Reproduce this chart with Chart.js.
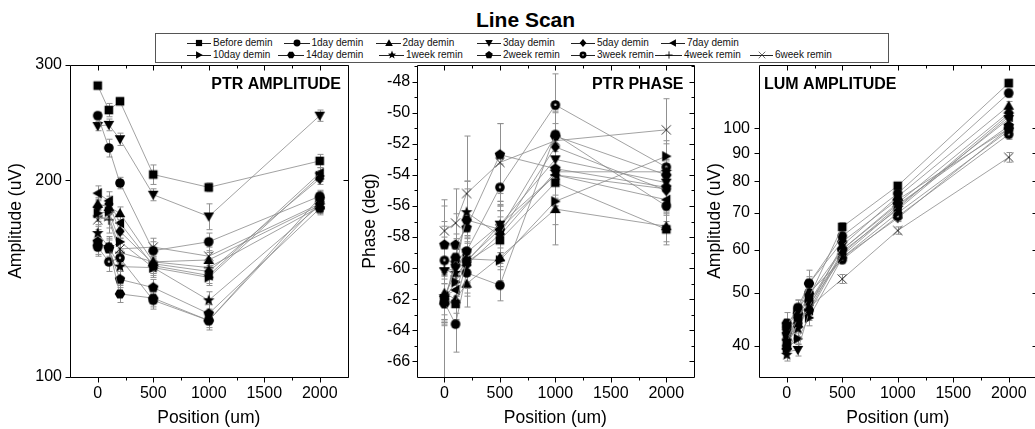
<!DOCTYPE html>
<html>
<head>
<meta charset="utf-8">
<script src="https://cdn.jsdelivr.net/npm/chart.js@4/dist/chart.umd.min.js"></script>
<style>
html,body{margin:0;padding:0;width:1035px;height:429px;overflow:hidden;background:#fff;font-family:"Liberation Sans",Arial,sans-serif;}
#title{position:absolute;left:0;width:1051px;top:9px;text-align:center;font-weight:bold;font-size:21px;line-height:21px;color:#000;}
canvas.panel{position:absolute;top:0;}
#legend{position:absolute;left:155px;top:33px;width:734px;height:30px;border:1px solid #555;box-sizing:border-box;background:#fff;}
.li{position:absolute;font-size:10px;line-height:12px;white-space:nowrap;color:#111;}
.lic{position:absolute;}
</style>
</head>
<body>
<div id="title">Line Scan</div>
<canvas id="c1" class="panel" width="355" height="429" style="left:0px"></canvas>
<canvas id="c2" class="panel" width="340" height="429" style="left:360px"></canvas>
<canvas id="c3" class="panel" width="345" height="429" style="left:700px"></canvas>
<div id="legend"></div>
<script>
// ---------------- DATA ----------------
const positions = [0, 100, 200, 500, 1000, 2000];
const seriesNames = ['Before demin','1day demin','2day demin','3day demin','5day demin','7day demin',
  '10day demin','14day demin','1week remin','2week remin','3week remin','4week remin','6week remin'];

const ptrAmplitude = [
  [279, 256, 264, 204, 195, 214],
  [251, 224, 198, 156, 161, 189],
  [184, 182, 178, 150, 151, 183],
  [242, 243, 231, 190, 176, 251],
  [182, 184, 167, 149, 145, 201],
  [191, 186, 172, 148, 143, 205],
  [178, 179, 161, 147, 142, 203],
  [159, 158, 134, 132, 122, 188],
  [166, 158, 147.5, 147, 131, 183],
  [161, 157, 141, 137, 125, 181],
  [158, 150, 152, 131, 122, 185],
  [176, 174, 155, 150, 147, 182],
  [174, 176, 157, 158, 153, 184]
];
const ptrAmplitudeErr = [
  [3, 6, 3, 7, 3, 5],
  [3, 7, 4, 5, 5, 4],
  [4, 5, 4, 5, 4, 4],
  [4, 5, 5, 4, 8, 5],
  [5, 5, 4, 4, 4, 4],
  [5, 6, 4, 4, 4, 4],
  [5, 5, 4, 4, 4, 4],
  [5, 5, 4, 4, 3, 4],
  [5, 6, 5, 5, 4, 4],
  [5, 5, 4, 4, 4, 4],
  [5, 5, 4, 4, 4, 4],
  [6, 8, 6, 6, 5, 4],
  [6, 7, 6, 5, 5, 4]
];
const ptrPhase = [
  [-62.0, -62.3, -59.6, -58.2, -54.5, -57.5],
  [-62.2, -63.6, -60.3, -61.1, -51.4, -56.0],
  [-61.6, -62.0, -61.0, -59.3, -56.2, -57.3],
  [-60.2, -60.0, -59.0, -57.2, -53.0, -54.5],
  [-61.9, -59.9, -59.8, -57.8, -52.2, -55.0],
  [-61.8, -61.4, -59.5, -57.5, -54.0, -55.6],
  [-62.0, -60.9, -59.4, -59.5, -55.7, -52.8],
  [-62.3, -59.3, -56.9, -57.5, -51.5, -54.0],
  [-61.8, -60.3, -56.4, -57.9, -53.8, -53.8],
  [-58.5, -58.5, -57.4, -52.7, -53.6, -54.8],
  [-59.5, -59.6, -58.9, -54.8, -49.5, -53.5],
  [-60.0, -60.5, -59.6, -57.2, -54.0, -54.9],
  [-57.6, -57.1, -55.2, -53.2, -51.8, -51.1]
];
const ptrPhaseErr = [
  [1.5, 1.0, 1.5, 1.5, 1.5, 1.0],
  [1.5, 1.8, 1.5, 1.0, 1.5, 1.0],
  [2.0, 1.5, 1.5, 1.5, 2.3, 1.0],
  [1.5, 1.5, 1.5, 1.5, 1.5, 1.0],
  [1.5, 1.5, 1.5, 1.5, 1.5, 1.0],
  [1.5, 1.5, 1.5, 1.5, 1.5, 1.0],
  [1.5, 1.5, 1.5, 1.5, 1.5, 1.0],
  [5.0, 1.5, 2.0, 1.5, 1.5, 1.0],
  [1.5, 1.5, 2.0, 2.0, 1.5, 1.0],
  [2.5, 2.0, 3.0, 2.0, 2.0, 1.5],
  [1.5, 1.5, 2.0, 1.5, 2.0, 1.5],
  [3.0, 2.0, 2.0, 2.0, 2.0, 1.5],
  [2.0, 2.2, 3.7, 2.5, 2.0, 2.0]
];
const lumAmplitude = [
  [40.5, 45, 49, 66, 78.5, 121],
  [43.5, 47, 52, 63.5, 76, 116],
  [40, 44, 47, 61, 75, 110],
  [39, 39.3, 46, 59, 72, 104],
  [41, 45, 48, 60, 73, 107],
  [40, 44, 46.5, 59.5, 71, 105],
  [39.5, 41.2, 45, 58, 70, 99],
  [44, 46, 52, 62, 74, 100],
  [38.5, 43, 48, 58.5, 71.5, 106],
  [42, 45.5, 49.5, 60, 72.5, 101],
  [43, 46.5, 50, 57.5, 69, 97.5],
  [41, 44, 47.5, 58, 68.5, 100],
  [42, 43, 47, 53, 65, 88.5]
];
const lumAmplitudeErr = [
  [1.0, 1.2, 1.2, 1.2, 1.0, 2.0],
  [1.2, 1.5, 1.5, 1.0, 1.0, 2.0],
  [1.0, 1.5, 1.5, 1.0, 1.0, 2.0],
  [1.0, 1.0, 1.5, 1.0, 1.0, 2.0],
  [1.0, 1.5, 1.5, 1.0, 1.0, 2.0],
  [1.0, 1.5, 1.5, 1.0, 1.0, 2.0],
  [1.0, 1.0, 1.5, 1.0, 1.0, 2.0],
  [2.0, 1.5, 3.0, 1.2, 1.0, 2.0],
  [1.0, 1.5, 2.0, 1.0, 1.0, 2.0],
  [1.5, 1.5, 2.0, 1.0, 1.0, 2.0],
  [1.5, 2.0, 2.5, 1.0, 1.0, 2.0],
  [1.5, 1.5, 2.0, 1.0, 1.0, 2.0],
  [1.5, 1.5, 1.5, 1.0, 1.0, 1.8]
];

const xTickValues = [0, 500, 1000, 1500, 2000];
const xMinorValues = [250, 750, 1250, 1750];
const ampTickValues = [100, 200, 300];
const phaseTickValues = [-66, -64, -62, -60, -58, -56, -54, -52, -50, -48];
const phaseMinorValues = [-65, -63, -61, -59, -57, -55, -53, -51, -49, -47];
const lumTickValues = [40, 50, 60, 70, 80, 90, 100];

// ---------------- MARKERS ----------------
const markerKinds = ['square','circle','triUp','triDown','diamond','triLeft','triRight',
  'hexagon','star','pentagon','dotCircle','plus','cross'];

function makeMarker(kind, s) {
  const size = Math.round(14 * s);
  const c = document.createElement('canvas');
  c.width = size; c.height = size;
  const g = c.getContext('2d');
  g.translate(size / 2, size / 2);
  g.scale(s, s);
  g.fillStyle = '#000'; g.strokeStyle = '#000';
  const poly = pts => { g.beginPath(); g.moveTo(pts[0][0], pts[0][1]); for (let i = 1; i < pts.length; i++) g.lineTo(pts[i][0], pts[i][1]); g.closePath(); g.fill(); };
  const reg = (n, r, rot) => { const p = []; for (let i = 0; i < n; i++) { const a = rot + i * 2 * Math.PI / n; p.push([r * Math.cos(a), r * Math.sin(a)]); } return p; };
  switch (kind) {
    case 'square': g.fillRect(-4.3, -4.3, 8.6, 8.6); break;
    case 'circle': g.beginPath(); g.arc(0, 0, 4.8, 0, 2 * Math.PI); g.fill(); break;
    case 'triUp': poly([[0, -5.3], [5.3, 4.1], [-5.3, 4.1]]); break;
    case 'triDown': poly([[0, 5.3], [5.3, -4.1], [-5.3, -4.1]]); break;
    case 'diamond': poly([[0, -5.7], [4.7, 0], [0, 5.7], [-4.7, 0]]); break;
    case 'triLeft': poly([[-5.3, 0], [4.1, -5.3], [4.1, 5.3]]); break;
    case 'triRight': poly([[5.3, 0], [-4.1, -5.3], [-4.1, 5.3]]); break;
    case 'hexagon': poly(reg(6, 5.3, 0)); break;
    case 'star': { const p = []; for (let i = 0; i < 10; i++) { const r = i % 2 ? 2.6 : 6.1; const a = -Math.PI / 2 + i * Math.PI / 5; p.push([r * Math.cos(a), r * Math.sin(a)]); } poly(p); break; }
    case 'pentagon': poly(reg(5, 5.5, -Math.PI / 2)); break;
    case 'dotCircle': g.beginPath(); g.arc(0, 0, 4.8, 0, 2 * Math.PI); g.fill();
      g.fillStyle = '#bbb'; g.beginPath(); g.arc(0, -0.3, 1.2, 0, 2 * Math.PI); g.fill(); break;
    case 'plus': g.lineWidth = 1.2; g.beginPath(); g.moveTo(-5, 0); g.lineTo(5, 0); g.moveTo(0, -5); g.lineTo(0, 5); g.stroke(); break;
    case 'cross': g.lineWidth = 1; g.strokeStyle = '#333'; g.beginPath(); g.moveTo(-4.6, -4.6); g.lineTo(4.6, 4.6); g.moveTo(4.6, -4.6); g.lineTo(-4.6, 4.6); g.stroke(); break;
  }
  return c;
}
const plotMarkers = markerKinds.map(k => makeMarker(k, 1));

// ---------------- PLUGINS ----------------
const errorBarPlugin = {
  id: 'errorBars',
  beforeDatasetsDraw(chart) {
    const ctx = chart.ctx, xs = chart.scales.x, ys = chart.scales.y, a = chart.chartArea;
    ctx.save();
    ctx.beginPath(); ctx.rect(a.left, a.top, a.right - a.left, a.bottom - a.top); ctx.clip();
    ctx.strokeStyle = '#909090'; ctx.lineWidth = 1;
    chart.data.datasets.forEach(ds => {
      ds.data.forEach((pt, j) => {
        const e = ds.errors[j];
        const px = Math.round(xs.getPixelForValue(pt.x)) + 0.5;
        const t = ys.getPixelForValue(pt.y + e), b = ys.getPixelForValue(pt.y - e);
        ctx.beginPath();
        ctx.moveTo(px, t); ctx.lineTo(px, b);
        ctx.moveTo(px - 3, t); ctx.lineTo(px + 3, t);
        ctx.moveTo(px - 3, b); ctx.lineTo(px + 3, b);
        ctx.stroke();
      });
    });
    ctx.restore();
  }
};

const framePlugin = {
  id: 'frame',
  beforeDatasetsDraw(chart, args, opts) {
    const ctx = chart.ctx, a = chart.chartArea, xs = chart.scales.x, ys = chart.scales.y;
    const L = Math.round(a.left) + 0.5, R = Math.round(a.right) + 0.5, T = Math.round(a.top) + 0.5, B = Math.round(a.bottom) + 0.5;
    ctx.save();
    ctx.strokeStyle = '#000'; ctx.lineWidth = 1;
    ctx.beginPath();
    ctx.moveTo(L, T); ctx.lineTo(R, T); ctx.lineTo(R, B); ctx.lineTo(L, B); ctx.closePath();
    const xt = (vals, len) => vals.forEach(v => { const p = Math.round(xs.getPixelForValue(v)) + 0.5;
      ctx.moveTo(p, B); ctx.lineTo(p, B + len); ctx.moveTo(p, T); ctx.lineTo(p, T + len); });
    const yt = (vals, len) => vals.forEach(v => { const p = Math.round(ys.getPixelForValue(v)) + 0.5;
      ctx.moveTo(L, p); ctx.lineTo(L - len, p); ctx.moveTo(R, p); ctx.lineTo(R - len, p); });
    xt(opts.xMajor || [], 5); xt(opts.xMinor || [], 3);
    yt(opts.yMajor || [], 5); yt(opts.yMinor || [], 3);
    ctx.stroke();
    // panel label
    ctx.fillStyle = '#000';
    ctx.font = 'bold 16px "Liberation Sans", Arial, sans-serif';
    ctx.textBaseline = 'alphabetic';
    if (opts.labelAlign === 'left') { ctx.textAlign = 'left'; ctx.fillText(opts.label, a.left + opts.labelOffset, a.top + 23.5); }
    else { ctx.textAlign = 'right'; ctx.fillText(opts.label, a.right - opts.labelOffset, a.top + 23.5); }
    ctx.restore();
  }
};

// ---------------- CHARTS ----------------
Chart.defaults.font.family = '"Liberation Sans", Arial, sans-serif';
Chart.defaults.color = '#000';

function buildDatasets(values, errors) {
  return seriesNames.map((name, i) => ({
    label: name,
    data: positions.map((p, j) => ({ x: p, y: values[i][j] })),
    errors: errors[i],
    showLine: true,
    borderColor: '#8a8a8a',
    borderWidth: 0.8,
    pointStyle: plotMarkers[i],
    pointRadius: 5,
    pointHoverRadius: 5,
    tension: 0
  }));
}

function makePanel(id, cfg) {
  new Chart(document.getElementById(id), {
    type: 'scatter',
    data: { datasets: buildDatasets(cfg.values, cfg.errors) },
    plugins: [errorBarPlugin, framePlugin],
    options: {
      responsive: false, animation: false, devicePixelRatio: 1, events: [],
      layout: { padding: { left: 0, top: 65, right: cfg.padRight, bottom: 0 } },
      plugins: {
        legend: { display: false }, tooltip: { enabled: false },
        frame: { xMajor: xTickValues, xMinor: xMinorValues, yMajor: cfg.yTicks, yMinor: cfg.yMinor,
                 label: cfg.label, labelAlign: cfg.labelAlign, labelOffset: cfg.labelOffset }
      },
      scales: {
        x: {
          type: 'linear', min: -250, max: 2250,
          afterBuildTicks: s => { s.ticks = xTickValues.map(v => ({ value: v })); },
          afterFit: s => { s.height = 52; },
          ticks: { font: { size: 16 }, padding: 6.5, maxRotation: 0, callback: v => String(v) },
          grid: { display: false, drawTicks: false }, border: { display: false },
          title: { display: true, text: 'Position (um)', font: { size: 17.5 }, padding: { top: 0, bottom: 0 } }
        },
        y: {
          type: cfg.yType, min: cfg.yMin, max: cfg.yMax,
          afterBuildTicks: s => { s.ticks = cfg.yTicks.map(v => ({ value: v })); },
          afterFit: s => { s.width = cfg.yWidth; },
          ticks: { font: { size: 16 }, padding: cfg.tickPad, callback: v => String(v) },
          grid: { display: false, drawTicks: false }, border: { display: false },
          title: { display: true, text: cfg.yTitle, font: { size: 17.5 }, padding: { top: cfg.titlePad, bottom: 0 } }
        }
      }
    }
  });
}

makePanel('c1', { values: ptrAmplitude, errors: ptrAmplitudeErr, yType: 'logarithmic', yMin: 100, yMax: 300,
  yTicks: ampTickValues, yMinor: [], yWidth: 70, tickPad: 8, titlePad: 6, padRight: 7.5,
  yTitle: 'Amplitude (uV)', label: 'PTR AMPLITUDE', labelAlign: 'right', labelOffset: 6.5 });
makePanel('c2', { values: ptrPhase, errors: ptrPhaseErr, yType: 'linear', yMin: -67, yMax: -46.93,
  yTicks: phaseTickValues, yMinor: phaseMinorValues, yWidth: 56.7, tickPad: 6.5, titlePad: 0, padRight: 6,
  yTitle: 'Phase (deg)', label: 'PTR PHASE', labelAlign: 'right', labelOffset: 10.5 });
makePanel('c3', { values: lumAmplitude, errors: lumAmplitudeErr, yType: 'logarithmic', yMin: 35.06, yMax: 130.6,
  yTicks: lumTickValues, yMinor: [], yWidth: 59, tickPad: 9, titlePad: 4.5, padRight: 8.5,
  yTitle: 'Amplitude (uV)', label: 'LUM AMPLITUDE', labelAlign: 'left', labelOffset: 5 });

// ---------------- LEGEND (HTML) ----------------
const legendLayout = [
  [187, 213, 42.7], [284, 311.5, 42.7], [376, 402.5, 42.7], [477, 503, 42.7], [571, 597, 42.7], [661, 687, 42.7],
  [187, 213, 55], [278, 306, 55], [379, 406, 55], [477, 503, 55], [571, 597, 55], [655, 684, 55], [750, 775, 55]
];
const legendEl = document.getElementById('legend');
seriesNames.forEach((name, i) => {
  const [ix, tx, cy] = legendLayout[i];
  const w = Math.round(tx - ix - 2);
  const ic = document.createElement('canvas');
  ic.width = w; ic.height = 12; ic.className = 'lic';
  ic.style.left = (ix - 155 - 1) + 'px'; ic.style.top = (cy - 6 - 33 - 1) + 'px';
  const g = ic.getContext('2d');
  g.strokeStyle = '#222'; g.lineWidth = 1;
  g.beginPath(); g.moveTo(0, 6.5); g.lineTo(w, 6.5); g.stroke();
  const m = makeMarker(markerKinds[i], 0.72);
  g.drawImage(m, Math.round(w / 2 - m.width / 2), Math.round(6 - m.height / 2));
  legendEl.appendChild(ic);
  const sp = document.createElement('span');
  sp.className = 'li'; sp.textContent = name;
  sp.style.left = (tx - 155 - 1) + 'px'; sp.style.top = (cy - 6 - 33 - 1) + 'px';
  legendEl.appendChild(sp);
});
</script>
</body>
</html>
